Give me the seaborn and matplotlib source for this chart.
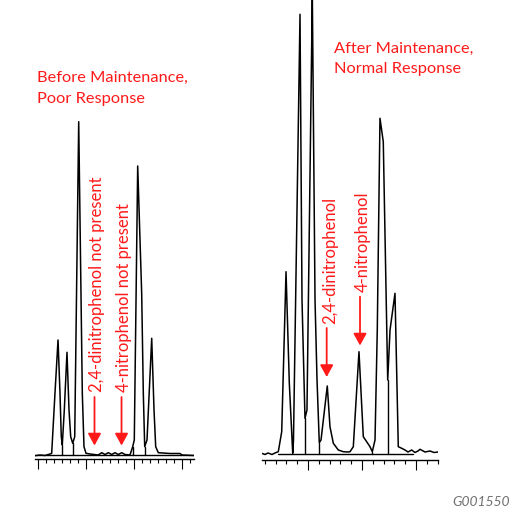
import numpy as np
import matplotlib
matplotlib.use('Agg')
import matplotlib.pyplot as plt
from matplotlib.ticker import MultipleLocator, NullFormatter, NullLocator
import seaborn as sns

sns.set_style('white')
plt.rcParams['font.family'] = ['Lato', 'DejaVu Sans']

# before maintenance - retention time (min) and detector response
before_time = [1.9375, 2.042, 2.146, 2.25, 2.285, 2.354, 2.417, 2.458, 2.485, 2.506,
               2.548, 2.604, 2.646, 2.681, 2.723, 2.765, 2.848, 2.923, 2.958, 3.0,
               3.083, 3.256, 3.327, 3.396, 3.465, 3.535, 3.604, 3.673, 3.744, 3.813,
               3.917, 3.973, 4.006, 4.077, 4.160, 4.194, 4.223, 4.271, 4.369, 4.417,
               4.452, 4.506, 4.75, 4.958, 5.0, 5.25]
before_signal = [-0.7, 0, -0.5, 1, 1.7, 62, 115, 62, 18.3, 10,
                 45, 102.7, 45, 18.3, 11.7, 18.3, 333.3, 62, 8.3, 1.7,
                 1, 0, 2.3, 0.5, 2.3, 0.5, 2.3, 0.5, 2.3, 0.5,
                 0, 8.3, 15, 289, 161.7, 61.7, 8.3, 15, 116.7, 45,
                 8.3, 2.3, 1.5, 1.5, 0, -0.5]
before_drops = [2.506, 2.723, 3.973, 4.223]

# after maintenance
after_time = [2.143, 2.204, 2.259, 2.333, 2.389, 2.45, 2.513, 2.593, 2.654, 2.717,
              2.731, 2.852, 2.889, 2.944, 2.981, 3.080, 3.130, 3.167, 3.209, 3.241,
              3.357, 3.407, 3.469, 3.561, 3.654, 3.741, 3.778, 3.839, 3.944, 4.024,
              4.148, 4.191, 4.241, 4.283, 4.333, 4.394, 4.476, 4.519, 4.611, 4.672,
              4.735, 4.796, 4.852, 4.920, 4.981, 5.037, 5.074, 5.167, 5.259, 5.333,
              5.407]
after_signal = [0.2, -1.0, 0.5, -1.0, 0.5, 1.8, 21.8, 181.8, 70.2, 0.2,
                13.5, 439.2, 153.5, 35.2, 43.5, 458.5, 153.5, 73.5, 10.8, 13.5,
                67.5, 26.8, 10.2, 3.5, 1.8, 1.5, 1.8, 6.8, 101.8, 16.8,
                6.8, 1.8, 13.5, 123.5, 335.2, 311.8, 73.5, 123.5, 160.2, 6.8,
                5.2, 3.5, 1.5, 3.5, 1.0, 2.5, 4.2, 1.5, 2.5, 1.0,
                1.5]
after_drops = [2.944, 3.209, 4.191, 4.476]
after_base = [2.45, 4.95]

red = '#ff1a1a'

fig = plt.figure(figsize=(5.13, 5.14), dpi=100)
ax1 = fig.add_axes([35/513, 0, 159/513, 1])
ax2 = fig.add_axes([262/513, 0, 176/513, 1])


def chrom(ax, t, s, drops, base, xlim, ylim, spine_y, minor):
    sns.lineplot(x=t, y=s, sort=False, estimator=None, color='black', lw=1.1, ax=ax)
    ax.plot(base, [0, 0], color='black', lw=1.0)
    for d in drops:
        ax.plot([d, d], [0, np.interp(d, t, s)], color='black', lw=1.0)
    ax.set_xlim(xlim)
    ax.set_ylim(ylim)
    ax.patch.set_alpha(0)
    for side in ['top', 'left', 'right']:
        ax.spines[side].set_visible(False)
    ax.spines['bottom'].set_position(('data', spine_y))
    ax.spines['bottom'].set_linewidth(1.0)
    ax.spines['bottom'].set_color('black')
    ax.xaxis.set_major_locator(MultipleLocator(1.0))
    ax.xaxis.set_minor_locator(MultipleLocator(minor))
    ax.xaxis.set_major_formatter(NullFormatter())
    ax.yaxis.set_major_locator(NullLocator())
    ax.tick_params(axis='x', which='major', direction='out', length=7, width=0.8,
                   color='black', bottom=True)
    ax.tick_params(axis='x', which='minor', direction='out', length=3, width=0.8,
                   color='black', bottom=True)
    ax.set_xlabel('')
    ax.set_ylabel('')


chrom(ax1, before_time, before_signal, before_drops, [1.9375, 5.25],
      (1.9375, 5.25), (-59, 455), -4, 1/6)
chrom(ax2, after_time, after_signal, after_drops, after_base,
      (2.1481, 5.4074), (-60.5, 453.5), -6, 0.2)

arrow = dict(arrowstyle='-|>,head_length=0.4,head_width=0.22', color=red, lw=1.3,
             mutation_scale=18, shrinkA=0, shrinkB=0)

ax1.text(1.979, 384, 'Before Maintenance,\nPoor Response', color=red, fontsize=11.8,
         ha='left', va='top', linespacing=1.68)
ax1.annotate('', xy=(3.177, 9.5), xytext=(3.177, 58), arrowprops=arrow)
ax1.annotate('', xy=(3.740, 9.5), xytext=(3.740, 58), arrowprops=arrow)
ax1.text(3.235, 63, '2,4-dinitrophenol not present', color=red, fontsize=12,
         rotation=90, ha='center', va='bottom')
ax1.text(3.795, 63, '4-nitrophenol not present', color=red, fontsize=12,
         rotation=90, ha='center', va='bottom')

ax2.text(3.481, 412, 'After Maintenance,\nNormal Response', color=red, fontsize=11.8,
         ha='left', va='top', linespacing=1.62)
ax2.annotate('', xy=(3.346, 76.5), xytext=(3.346, 125.5), arrowprops=arrow)
ax2.annotate('', xy=(3.963, 108), xytext=(3.963, 156.8), arrowprops=arrow)
ax2.text(3.405, 130, '2,4-dinitrophenol', color=red, fontsize=12,
         rotation=90, ha='center', va='bottom')
ax2.text(4.015, 162, '4-nitrophenol', color=red, fontsize=12,
         rotation=90, ha='center', va='bottom')

fig.text(510/513, 1 - 502/514, 'G001550', ha='right', va='center',
         style='italic', color='#707070', fontsize=10)

fig.savefig('out.png', dpi=100)
